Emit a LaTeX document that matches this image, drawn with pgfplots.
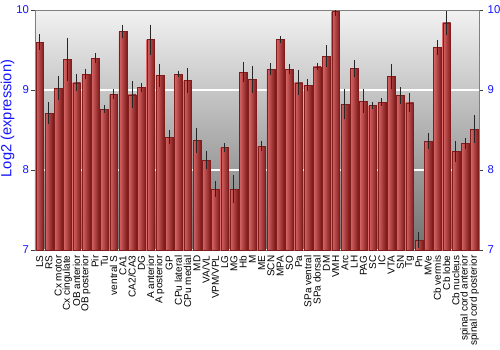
\documentclass[border=0pt]{standalone}
\usepackage{pgfplots}
\pgfplotsset{compat=1.18}
\usepackage{pgfplotstable}
\usepackage{fontspec}
\setmainfont{Liberation Sans}
\definecolor{barL}{RGB}{218,104,104}
\definecolor{barM}{RGB}{196,64,64}
\definecolor{barR}{RGB}{128,28,28}
\definecolor{bgTop}{RGB}{242,242,242}
\definecolor{bgBot}{RGB}{112,112,112}
\definecolor{lblue}{RGB}{20,20,255}
\pgfplotstableread{
x y e
0 9.60 0.06
1 8.71 0.10
2 9.025 0.11
3 9.38 0.23
4 9.09 0.07
5 9.20 0.03
6 9.40 0.025
7 8.76 0.01
8 8.95 0.025
9 9.73 0.04
10 8.94 0.13
11 9.03 0.015
12 9.63 0.15
13 9.18 0.11
14 8.41 0.05
15 9.20 0.005
16 9.12 0.12
17 8.37 0.12
18 8.125 0.07
19 7.76 0.06
20 8.28 0.02
21 7.76 0.14
22 9.225 0.085
23 9.13 0.13
24 8.30 0.02
25 9.26 0.04
26 9.63 0.01
27 9.26 0.025
28 9.09 0.12
29 9.06 0.04
30 9.29 0.005
31 9.425 0.1
32 9.98 0.015
33 8.82 0.15
34 9.27 0.07
35 8.86 0.11
36 8.81 0.005
37 8.85 0.008
38 9.17 0.12
39 8.93 0.07
40 8.84 0.08
41 7.125 0.06
42 8.36 0.06
43 9.53 0.06
44 9.84 0.11
45 8.23 0.09
46 8.33 0.03
47 8.51 0.14
}\datatable
\begin{document}
\begin{tikzpicture}[x=1pt,y=1pt]
\useasboundingbox (-26.25,-75) rectangle (348.75,187.5);
\begin{axis}[
  at={(0,0)}, anchor=south west,
  scale only axis, width=333pt, height=180pt,
  xmin=-0.5, xmax=47.5, ymin=7, ymax=10,
  axis background/.style={top color=bgTop, bottom color=bgBot},
  axis line style={gray},
  xtick={0,...,47},
  xticklabels={LS,RS,Cx motor,Cx cingulate,OB anterior,OB posterior,Pir,Tu,ventral S,CA1,CA2/CA3,DG,A anterior,A posterior,GP,CPu lateral,CPu medial,MD,VA/VL,VPM/VPL,LG,MG,Hb,M,ME,SCN,MPA,SO,Pa,SPa ventral,SPa dorsal,DM,VMH,Arc,LH,PAG,SC,IC,VTA,SN,Tg,Pn,MVe,Cb vermis,Cb lobe,Cb nucleus,spinal cord anterior,spinal cord posterior},
  xticklabel style={rotate=90, anchor=east, font=\fontsize{7.5}{8}\selectfont, inner sep=1pt},
  xtick style={draw=none},
  ytick={7,8,9,10},
  ymajorgrids, major grid style={white, line width=0.9pt},
  yticklabel pos=left,
  tick align=outside, major tick length=3pt,
  ytick style={black!75},
  yticklabel style={lblue, font=\fontsize{8.5}{10}\selectfont, xshift=2pt},
  /pgf/number format/assume math mode=true,
  ylabel={Log2 (expression)},
  every axis y label/.style={at={(axis description cs:0,0.548)}, rotate=90, anchor=center, yshift=20.5pt, lblue, font=\fontsize{11}{13}\selectfont},
]
\pgfplotsinvokeforeach{0,...,47}{
\addplot[ybar, bar width=0.86, bar shift=0pt, draw=barR, line width=0.2pt,
  left color=barL, middle color=barM, right color=barR,
  x filter/.expression={\coordindex==#1 ? x : nan}]
  table[x=x, y=y] {\datatable};
}
\addplot[draw=none, mark=none, forget plot,
  error bars/.cd, y dir=both, y explicit, error mark=-,
  error bar style={black!85, line width=0.7pt},
  error mark options={black!85, line width=0.7pt, mark size=2.2pt}]
  table[x=x, y=y, y error=e] {\datatable};
\end{axis}
\begin{axis}[
  at={(0,0)}, anchor=south west,
  scale only axis, width=333pt, height=180pt,
  xmin=-0.5, xmax=47.5, ymin=7, ymax=10,
  axis y line*=right, axis x line=none,
  axis line style={gray},
  ytick={7,8,9,10},
  tick align=outside, major tick length=3pt,
  ytick style={black!75},
  yticklabel style={lblue, font=\fontsize{8.5}{10}\selectfont},
  /pgf/number format/assume math mode=true,
]
\end{axis}
\end{tikzpicture}
\end{document}
